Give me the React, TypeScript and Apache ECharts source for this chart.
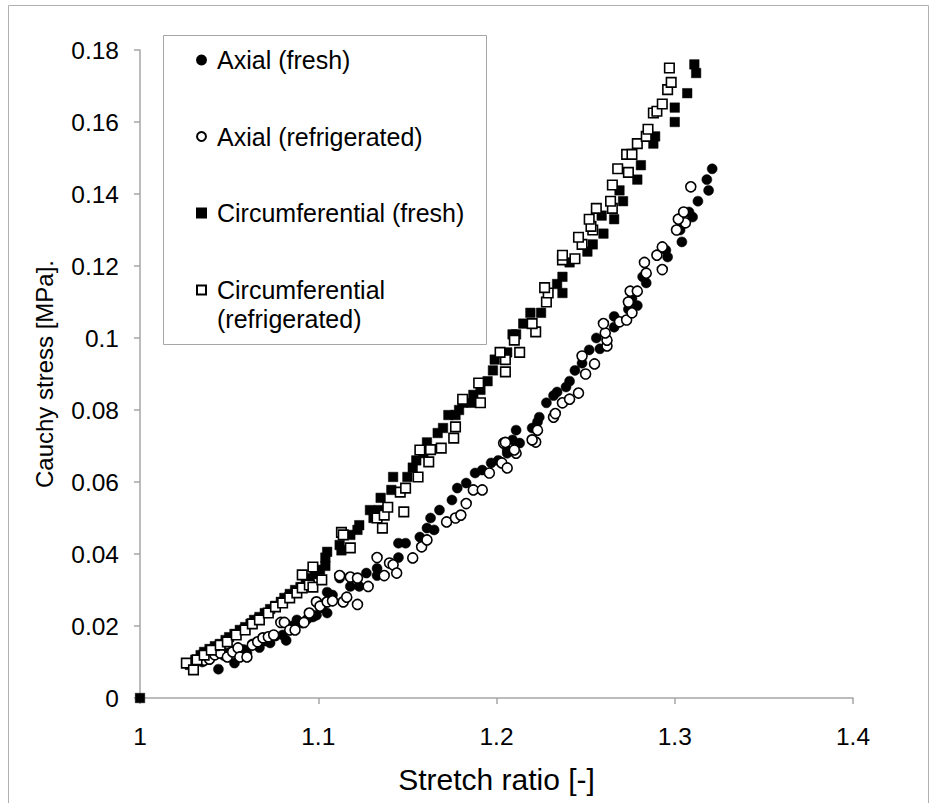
import React, { useEffect, useRef } from "react";
import * as echarts from "echarts";

// ---- data (stretch ratio, Cauchy stress [MPa]) ----
const axialFresh: [number, number][] = [
  [1.035, 0.010], [1.040, 0.0115], [1.044, 0.008], [1.047, 0.0118], [1.048, 0.0125], [1.051, 0.0128],
  [1.053, 0.0097], [1.056, 0.013], [1.058, 0.0135], [1.060, 0.0125], [1.063, 0.015], [1.067, 0.014],
  [1.070, 0.0158], [1.073, 0.0153], [1.076, 0.0172], [1.080, 0.0175], [1.082, 0.016], [1.085, 0.020],
  [1.088, 0.0217], [1.091, 0.0208], [1.094, 0.022], [1.097, 0.0225], [1.099, 0.023], [1.102, 0.025],
  [1.105, 0.0236], [1.105, 0.0294], [1.108, 0.0286], [1.112, 0.0333],
  [1.118, 0.031], [1.123, 0.031], [1.127, 0.0347], [1.133, 0.034], [1.133, 0.036], [1.145, 0.039],
  [1.145, 0.043], [1.149, 0.043], [1.157, 0.0447], [1.161, 0.0472], [1.165, 0.0467], [1.163, 0.050],
  [1.168, 0.0522], [1.175, 0.055], [1.178, 0.0583], [1.183, 0.0597], [1.188, 0.0625], [1.192, 0.0633],
  [1.197, 0.0653], [1.201, 0.066], [1.206, 0.068], [1.206, 0.0689], [1.209, 0.0717], [1.211, 0.0744],
  [1.213, 0.0708], [1.220, 0.075], [1.223, 0.0767], [1.224, 0.078], [1.228, 0.082], [1.232, 0.084],
  [1.234, 0.085], [1.239, 0.0864], [1.241, 0.088], [1.244, 0.091], [1.248, 0.093], [1.252, 0.0967],
  [1.256, 0.100], [1.258, 0.097], [1.266, 0.103], [1.266, 0.106], [1.274, 0.108], [1.276, 0.111],
  [1.279, 0.109], [1.282, 0.117], [1.284, 0.1153], [1.295, 0.1244], [1.296, 0.1225], [1.304, 0.1267],
  [1.303, 0.130], [1.308, 0.135], [1.310, 0.1336], [1.313, 0.138], [1.319, 0.141], [1.318, 0.144],
  [1.321, 0.147],
];

const axialRefrigerated: [number, number][] = [
  [1.036, 0.0105], [1.039, 0.0108], [1.042, 0.012], [1.045, 0.0125], [1.049, 0.0114], [1.052, 0.0128],
  [1.055, 0.0139], [1.056, 0.0114], [1.060, 0.0114], [1.063, 0.0147], [1.066, 0.0156], [1.069, 0.0167],
  [1.072, 0.017], [1.075, 0.0175], [1.079, 0.021], [1.081, 0.021], [1.084, 0.0189], [1.087, 0.0189],
  [1.092, 0.021], [1.095, 0.0236], [1.099, 0.0267], [1.101, 0.0255], [1.105, 0.0267], [1.108, 0.027],
  [1.114, 0.0267], [1.116, 0.028], [1.112, 0.034], [1.118, 0.0336],
  [1.122, 0.026], [1.122, 0.0333], [1.128, 0.031], [1.133, 0.039], [1.137, 0.034], [1.140, 0.0375],
  [1.142, 0.037], [1.144, 0.0347], [1.153, 0.0389], [1.158, 0.042], [1.161, 0.0439], [1.172, 0.0489],
  [1.177, 0.050], [1.180, 0.0508], [1.183, 0.054], [1.187, 0.0578], [1.192, 0.0578], [1.196, 0.0625],
  [1.203, 0.0653], [1.206, 0.0639], [1.211, 0.068], [1.210, 0.0689], [1.204, 0.0708], [1.205, 0.071],
  [1.222, 0.0711], [1.220, 0.0717], [1.223, 0.0744], [1.232, 0.078], [1.233, 0.079], [1.237, 0.082],
  [1.241, 0.083], [1.246, 0.0847], [1.250, 0.090], [1.255, 0.0928], [1.248, 0.095], [1.262, 0.0978],
  [1.262, 0.0994], [1.261, 0.1014], [1.260, 0.104], [1.269, 0.1045], [1.273, 0.105], [1.276, 0.107],
  [1.274, 0.110], [1.275, 0.113], [1.279, 0.113], [1.284, 0.118], [1.283, 0.121], [1.293, 0.119],
  [1.290, 0.123], [1.293, 0.1253], [1.301, 0.130], [1.306, 0.132], [1.302, 0.133], [1.305, 0.135],
  [1.309, 0.142],
];

const circFresh: [number, number][] = [
  [1.0, 0.0],
  [1.028, 0.0092], [1.031, 0.0106], [1.034, 0.0119], [1.036, 0.0128], [1.039, 0.0136], [1.042, 0.0144],
  [1.045, 0.015], [1.048, 0.0161], [1.050, 0.0169], [1.053, 0.0178], [1.056, 0.0189], [1.059, 0.0197],
  [1.062, 0.0206], [1.064, 0.0217], [1.067, 0.0225], [1.070, 0.0236], [1.073, 0.0247], [1.076, 0.0256],
  [1.079, 0.0267], [1.081, 0.0278], [1.084, 0.0289], [1.087, 0.030], [1.090, 0.0308], [1.093, 0.032],
  [1.095, 0.0333], [1.098, 0.0344], [1.101, 0.0356], [1.104, 0.0367], [1.104, 0.039], [1.105, 0.0406],
  [1.112, 0.0425], [1.113, 0.041], [1.118, 0.0453], [1.122, 0.0467], [1.123, 0.048], [1.131, 0.050],
  [1.129, 0.0522], [1.134, 0.0522], [1.135, 0.0556], [1.141, 0.0578], [1.142, 0.0614], [1.150, 0.0614],
  [1.153, 0.064], [1.155, 0.066], [1.159, 0.068], [1.161, 0.071], [1.167, 0.0736], [1.170, 0.075],
  [1.173, 0.0786], [1.177, 0.0786], [1.179, 0.080], [1.181, 0.082], [1.186, 0.082], [1.187, 0.0842],
  [1.191, 0.0856], [1.195, 0.088], [1.198, 0.091], [1.199, 0.094], [1.206, 0.096], [1.209, 0.101],
  [1.211, 0.101], [1.215, 0.104], [1.219, 0.107], [1.225, 0.107], [1.234, 0.115], [1.237, 0.1125],
  [1.237, 0.117], [1.241, 0.121], [1.251, 0.124], [1.254, 0.126], [1.260, 0.129], [1.259, 0.134],
  [1.266, 0.133], [1.271, 0.138], [1.269, 0.141], [1.279, 0.144], [1.281, 0.148], [1.288, 0.154],
  [1.289, 0.156], [1.300, 0.160], [1.300, 0.164], [1.307, 0.168], [1.311, 0.176], [1.312, 0.1736],
];

const circRefrigerated: [number, number][] = [
  [1.026, 0.0097], [1.030, 0.0078], [1.032, 0.0106], [1.036, 0.0119], [1.040, 0.0133], [1.045, 0.0147],
  [1.049, 0.0156], [1.054, 0.0175], [1.059, 0.0189], [1.063, 0.0206], [1.067, 0.0217], [1.072, 0.0236],
  [1.076, 0.0253], [1.080, 0.0264], [1.084, 0.0278], [1.088, 0.0292], [1.091, 0.0306], [1.095, 0.0314],
  [1.097, 0.0308], [1.102, 0.0328], [1.091, 0.0342], [1.097, 0.0364], [1.113, 0.046], [1.114, 0.0453],
  [1.118, 0.0417], [1.133, 0.050], [1.136, 0.0472], [1.137, 0.0508], [1.139, 0.053], [1.148, 0.0517],
  [1.146, 0.0572], [1.149, 0.0583], [1.156, 0.0614], [1.157, 0.0689], [1.162, 0.0656], [1.163, 0.069],
  [1.169, 0.0694], [1.176, 0.0722], [1.177, 0.0753], [1.181, 0.083], [1.191, 0.082], [1.190, 0.0875],
  [1.205, 0.0906], [1.205, 0.094], [1.202, 0.096], [1.213, 0.096], [1.210, 0.0994], [1.222, 0.1017],
  [1.220, 0.104], [1.228, 0.110], [1.229, 0.1125], [1.227, 0.114], [1.237, 0.1217], [1.237, 0.123],
  [1.244, 0.122], [1.248, 0.126], [1.246, 0.128], [1.254, 0.130], [1.253, 0.131], [1.252, 0.133],
  [1.256, 0.136], [1.265, 0.136], [1.264, 0.138], [1.265, 0.1425], [1.274, 0.146], [1.268, 0.147],
  [1.273, 0.151], [1.276, 0.151], [1.279, 0.154], [1.284, 0.156], [1.285, 0.158], [1.288, 0.1625],
  [1.290, 0.163], [1.293, 0.165], [1.296, 0.169], [1.298, 0.171], [1.297, 0.175],
];

const seriesNames = [
  "Axial (fresh)",
  "Axial (refrigerated)",
  "Circumferential (fresh)",
  "Circumferential\n(refrigerated)",
];

const xTitle = "Stretch ratio [-]";
const yTitle = "Cauchy stress [MPa].";

const FONT = "'Liberation Sans', Arial, sans-serif";
const AXIS_GRAY = "#a6a6a6";

export default function App() {
  const ref = useRef<HTMLDivElement>(null);

  useEffect(() => {
    if (!ref.current) return;
    const chart = echarts.init(ref.current, undefined, { renderer: "svg" });

    const filled = { color: "#000", borderColor: "#000", borderWidth: 0.5, opacity: 1 };
    const hollow = { color: "#fff", borderColor: "#000", borderWidth: 1.6, opacity: 1 };

    chart.setOption({
      animation: false,
      backgroundColor: "#fff",
      textStyle: { fontFamily: FONT },
      grid: { left: 140, right: 84, top: 50, bottom: 105 },
      xAxis: {
        type: "value",
        min: 1,
        max: 1.4,
        interval: 0.1,
        name: xTitle,
        nameLocation: "middle",
        nameGap: 66,
        nameTextStyle: { fontSize: 30, color: "#000", fontFamily: FONT },
        axisLine: { show: true, lineStyle: { color: AXIS_GRAY, width: 1.5 } },
        axisTick: { show: true, inside: false, length: 6, lineStyle: { color: AXIS_GRAY, width: 1.5 } },
        axisLabel: { fontSize: 24.5, color: "#000", margin: 26, fontFamily: FONT },
        splitLine: { show: false },
      },
      yAxis: {
        type: "value",
        min: 0,
        max: 0.18,
        interval: 0.02,
        name: yTitle,
        nameLocation: "middle",
        nameGap: 84,
        nameRotate: 90,
        nameTextStyle: { fontSize: 24, color: "#000", fontFamily: FONT },
        axisLine: { show: true, lineStyle: { color: AXIS_GRAY, width: 1.5 } },
        axisTick: { show: true, inside: false, length: 6, lineStyle: { color: AXIS_GRAY, width: 1.5 } },
        axisLabel: { fontSize: 24.5, color: "#000", margin: 21, fontFamily: FONT },
        splitLine: { show: false },
      },
      legend: [
        {
          data: seriesNames.slice(0, 3),
          orient: "vertical",
          left: 196,
          top: 46,
          padding: 0,
          itemGap: 48.5,
          itemWidth: 9,
          itemHeight: 9,
          selectedMode: false,
          textStyle: { fontSize: 25, lineHeight: 28, color: "#000", fontFamily: FONT, padding: [0, 0, 0, 6] },
        },
        {
          data: [seriesNames[3]],
          orient: "vertical",
          left: 196,
          top: 246.5,
          padding: 0,
          itemWidth: 9,
          itemHeight: 9,
          selectedMode: false,
          formatter: (name: string) => " \n" + name,
          textStyle: { fontSize: 25, lineHeight: 29, color: "#000", fontFamily: FONT, padding: [0, 0, 0, 6] },
        },
      ],
      graphic: [
        {
          type: "rect",
          silent: true,
          shape: { x: 8.5, y: 5.5, width: 920, height: 810 },
          style: { fill: "none", stroke: "#b0b0b0", lineWidth: 1 },
          z: -10,
        },
        {
          type: "rect",
          silent: true,
          shape: { x: 163.5, y: 35.5, width: 323, height: 309 },
          style: { fill: "none", stroke: "#a6a6a6", lineWidth: 1 },
        },
      ],
      series: [
        {
          name: seriesNames[0],
          type: "scatter",
          symbol: "circle",
          symbolSize: 10,
          itemStyle: filled,
          data: axialFresh,
        },
        {
          name: seriesNames[1],
          type: "scatter",
          symbol: "circle",
          symbolSize: 10,
          itemStyle: hollow,
          data: axialRefrigerated,
        },
        {
          name: seriesNames[2],
          type: "scatter",
          symbol: "rect",
          symbolSize: 9.5,
          itemStyle: filled,
          data: circFresh,
        },
        {
          name: seriesNames[3],
          type: "scatter",
          symbol: "rect",
          symbolSize: 9.5,
          itemStyle: hollow,
          data: circRefrigerated,
        },
      ],
    });

    return () => chart.dispose();
  }, []);

  return (
    <div
      ref={ref}
      style={{ position: "fixed", left: 0, top: 0, width: 937, height: 803 }}
    />
  );
}
